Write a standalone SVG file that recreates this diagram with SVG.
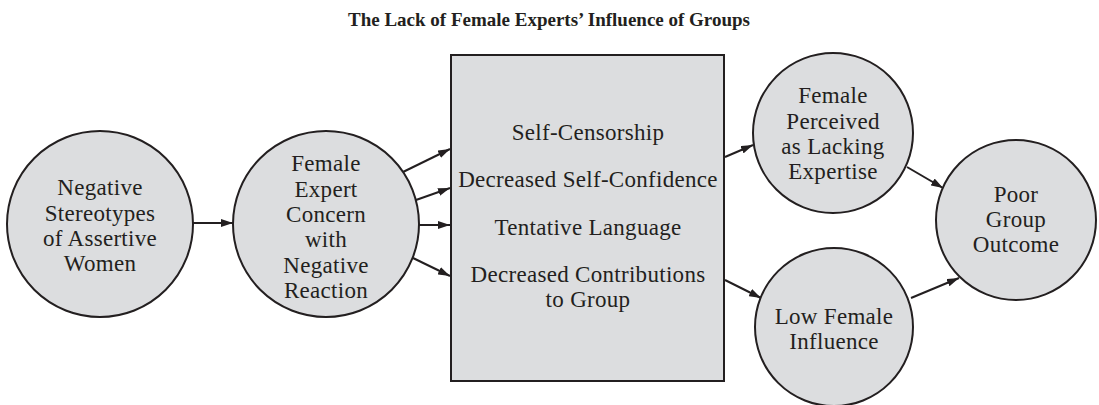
<svg xmlns="http://www.w3.org/2000/svg" width="1099" height="405" viewBox="0 0 1099 405">
<defs>
<style>
.n{fill:#dcdddf;stroke:#231f20;stroke-width:2}
.t{font-family:"Liberation Serif","Times New Roman",serif;font-size:23px;letter-spacing:0.3px;fill:#231f20;text-anchor:middle}
.title{font-family:"Liberation Serif","Times New Roman",serif;font-size:19px;font-weight:bold;fill:#231f20;text-anchor:middle}
.c{stroke:#231f20;stroke-width:2;fill:none;marker-end:url(#ah)}
</style>
<marker id="ah" viewBox="0 0 12 8" refX="12" refY="4" markerWidth="12" markerHeight="8" markerUnits="userSpaceOnUse" orient="auto">
<path d="M0,0 L12,4 L0,8 Z" fill="#231f20"/>
</marker>
</defs>
<rect width="1099" height="405" fill="#fff"/>
<text class="title" x="549" y="26">The Lack of Female Experts’ Influence of Groups</text>
<g id="connectors">
<line class="c" x1="193" y1="223" x2="233" y2="223"/>
<line class="c" x1="403" y1="172" x2="450" y2="149"/>
<line class="c" x1="416" y1="200" x2="450" y2="188"/>
<line class="c" x1="419" y1="225" x2="450" y2="225"/>
<line class="c" x1="413" y1="258" x2="450" y2="276"/>
<line class="c" x1="725" y1="157" x2="753" y2="145"/>
<line class="c" x1="725" y1="280" x2="761" y2="298"/>
<line class="c" x1="907" y1="167" x2="943" y2="188"/>
<line class="c" x1="911" y1="298" x2="959" y2="278"/>
</g>
<g id="n1">
<circle class="n" cx="100" cy="224" r="93"/>
<text class="t" x="100" y="195">Negative</text>
<text class="t" x="100" y="221">Stereotypes</text>
<text class="t" x="100" y="246">of Assertive</text>
<text class="t" x="100" y="271">Women</text>
</g>
<g id="n2">
<circle class="n" cx="326" cy="224" r="93"/>
<text class="t" x="326" y="171">Female</text>
<text class="t" x="326" y="197">Expert</text>
<text class="t" x="326" y="222">Concern</text>
<text class="t" x="326" y="247">with</text>
<text class="t" x="326" y="273">Negative</text>
<text class="t" x="326" y="298">Reaction</text>
</g>
<g id="n3">
<rect class="n" x="451" y="55" width="273" height="326"/>
<text class="t" x="588" y="140">Self-Censorship</text>
<text class="t" x="588" y="187">Decreased Self-Confidence</text>
<text class="t" x="588" y="235">Tentative Language</text>
<text class="t" x="588" y="282">Decreased Contributions</text>
<text class="t" x="588" y="307">to Group</text>
</g>
<g id="n4">
<circle class="n" cx="833" cy="133" r="80"/>
<text class="t" x="833" y="103">Female</text>
<text class="t" x="833" y="129">Perceived</text>
<text class="t" x="833" y="154">as Lacking</text>
<text class="t" x="833" y="179">Expertise</text>
</g>
<g id="n5">
<circle class="n" cx="834" cy="327" r="79"/>
<text class="t" x="834" y="324">Low Female</text>
<text class="t" x="834" y="349">Influence</text>
</g>
<g id="n6">
<circle class="n" cx="1016" cy="220" r="80"/>
<text class="t" x="1016" y="202">Poor</text>
<text class="t" x="1016" y="227">Group</text>
<text class="t" x="1016" y="252">Outcome</text>
</g>
</svg>
